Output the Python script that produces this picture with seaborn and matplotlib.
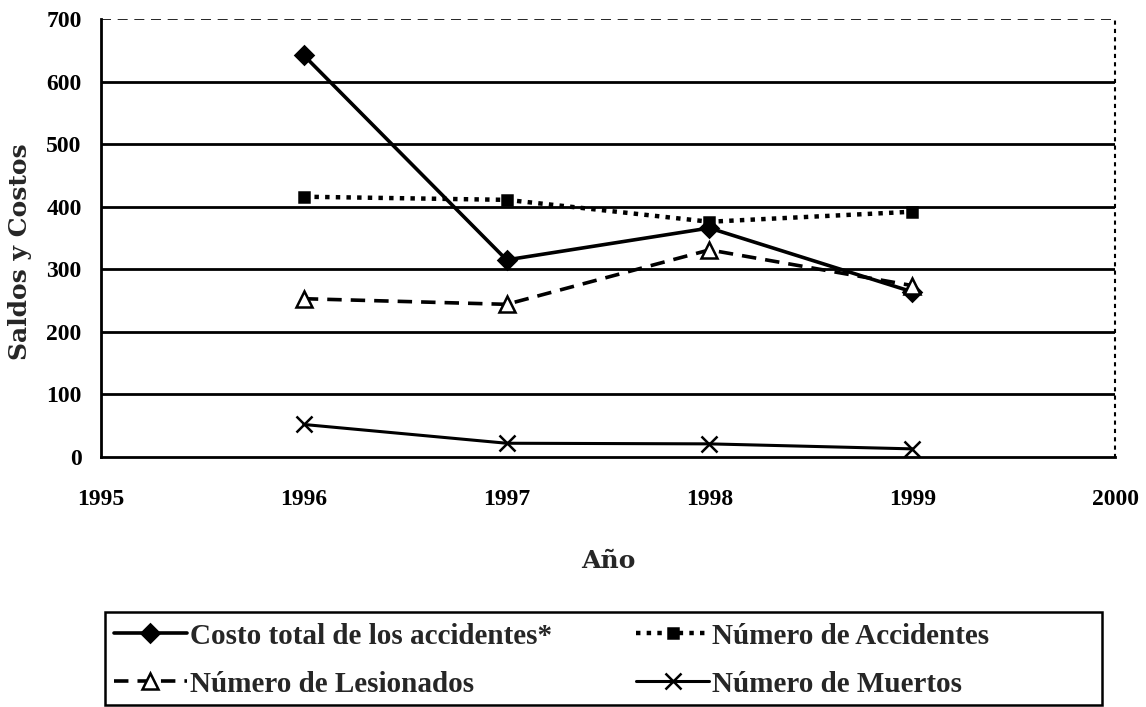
import matplotlib
matplotlib.use("Agg")
import matplotlib.pyplot as plt
from matplotlib.patches import Rectangle
import seaborn as sns

years = [1996, 1997, 1998, 1999]
costo_total = [642, 315, 366, 264]
num_accidentes = [416, 411, 376, 392]
num_lesionados = [253, 244, 331, 274]
num_muertos = [52, 22, 21, 13]

series_names = [
    "Costo total de los accidentes*",
    "Número de Lesionados",
    "Número de Accidentes",
    "Número de Muertos",
]
series_values = [costo_total, num_lesionados, num_accidentes, num_muertos]
styles = {
    "Costo total de los accidentes*": dict(marker="D", linestyle="-", lw=2.6, ms=9, mfc="black"),
    "Número de Lesionados": dict(marker="^", linestyle=(0, (4, 2.5)), lw=2.6, ms=11, mfc="white"),
    "Número de Accidentes": dict(marker="s", linestyle=(0, (1, 1.4)), lw=3.2, ms=7, mfc="black"),
    "Número de Muertos": dict(marker="x", linestyle="-", lw=2.2, ms=11, mfc="black"),
}

sns.set_theme(style="white")
plt.rcParams["font.family"] = ["Liberation Serif", "DejaVu Serif"]

fig = plt.figure(figsize=(11.46, 7.07), dpi=100)
ax = fig.add_axes([0.0881, 0.3536, 0.8849, 0.6195])

for name, vals in zip(series_names, series_values):
    st = styles[name]
    sns.lineplot(
        x=years, y=vals, ax=ax, color="black", label=name,
        marker=st["marker"], linestyle=st["linestyle"], linewidth=st["lw"],
        markersize=st["ms"], markerfacecolor=st["mfc"], markeredgecolor="black",
        markeredgewidth=1.8,
    )

ax.set_xlim(1995, 2000)
ax.set_ylim(0, 700)
ax.set_xticks([1995, 1996, 1997, 1998, 1999, 2000])
ax.set_yticks(range(0, 701, 100))
for yv in range(100, 701, 100):
    ax.axhline(yv, color="black", lw=2.0 if yv < 700 else 1.2,
               linestyle="-" if yv < 700 else (0, (6, 4)), zorder=0)

ax.spines["top"].set_visible(False)
ax.spines["right"].set_linestyle((0, (1, 3)))
ax.spines["right"].set_linewidth(1.5)
ax.spines["left"].set_linewidth(2.0)
ax.spines["bottom"].set_linewidth(2.0)
for s in ax.spines.values():
    s.set_color("black")

tick_font = dict(family="Liberation Serif", weight="bold", size=17)
ax.tick_params(axis="both", direction="out", length=6, width=1.8, colors="black")
ax.tick_params(axis="x", pad=17)
ax.tick_params(axis="y", pad=8)
for lbl in ax.get_xticklabels() + ax.get_yticklabels():
    lbl.set_fontproperties(tick_font)

ax.set_xlabel("Año", family="DejaVu Serif", fontsize=18, fontweight="bold", labelpad=28)
ax.set_ylabel("Saldos y Costos", family="DejaVu Serif", fontsize=18, fontweight="bold")
ax.yaxis.set_label_coords(-0.068, 0.468)

ax.legend_.remove()
handles, labels = ax.get_legend_handles_labels()
leg = fig.legend(
    handles, labels, ncol=2, loc="upper left",
    bbox_to_anchor=(102 / 1146, 1 - 611 / 707),
    frameon=False, prop=dict(family="Liberation Serif", weight="bold", size=21),
    handlelength=2.5, handletextpad=0.1, borderaxespad=0, columnspacing=2.9,
    labelspacing=0.72,
)
fig.add_artist(Rectangle((105 / 1146, 2 / 707), 997 / 1146, 93 / 707,
                         transform=fig.transFigure, fill=False, edgecolor="black", lw=1.8))

fig.savefig("out.png", dpi=100)
